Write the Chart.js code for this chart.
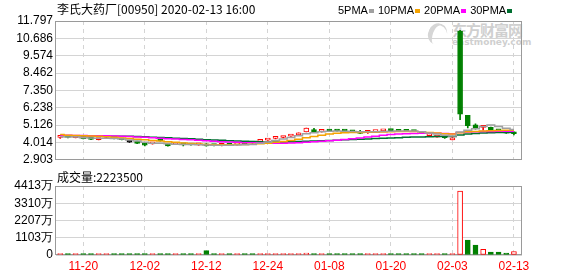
<!DOCTYPE html>
<html>
<head>
<meta charset="utf-8">
<script src="https://cdn.jsdelivr.net/npm/chart.js@4.4.1/dist/chart.umd.min.js"></script>
<style>
  body { margin: 0; width: 578px; height: 276px; background: #fff; position: relative; overflow: hidden; font-family: "Noto Sans CJK SC", sans-serif; }
  canvas { position: absolute; left: 0; }
  #price { top: 0; }
  #vol { top: 170px; }
  .txt { position: absolute; white-space: nowrap; color: #000; font-size: 12px; line-height: 14px; }
  #title { left: 57px; top: 2px; }
  #voltitle { left: 57px; top: 170px; }
  #legend { left: 338px; top: 3px; font-family: "Liberation Sans", sans-serif; font-size: 11px; }
  #legend i { display: inline-block; width: 5px; height: 4px; margin: 0 4px 1px 1px; vertical-align: middle; }
  #wm { position: absolute; left: 452px; top: 21px; color: #cfcfcf; }
  #wm .big { font-size: 15px; font-weight: bold; line-height: 17px; letter-spacing: -1px; }
  #wm .small { font-family: "DejaVu Sans", sans-serif; font-size: 9px; line-height: 9px; font-weight: bold; }
  #logo { position: absolute; left: 428px; top: 23px; width: 14px; height: 20px; border-radius: 50%; border-left: 5px solid #d6d6d6; border-top: 2px solid #d6d6d6; transform: rotate(20deg); }
</style>
</head>
<body>
<div id="logo"></div>
<div id="wm"><div class="big">东方财富网</div><div class="small">eastmoney.com</div></div>
<canvas id="price" width="578" height="170"></canvas>
<canvas id="vol" width="578" height="106"></canvas>
<div id="title" class="txt">李氏大药厂[00950] 2020-02-13 16:00</div>
<div id="legend" class="txt">5PMA<i style="background:#a0a0a0"></i>10PMA<i style="background:#f5a300"></i>20PMA<i style="background:#ff00ff"></i>30PMA<i style="background:#006f30"></i></div>
<div id="voltitle" class="txt">成交量:2223500</div>
<script>
const dates = ['11-15','11-18','11-19','11-20','11-21','11-22','11-25','11-26','11-27','11-28',
  '11-29','12-02','12-03','12-04','12-05','12-06','12-09','12-10','12-11','12-12',
  '12-13','12-16','12-17','12-18','12-19','12-20','12-23','12-24','12-27','12-30',
  '12-31','01-02','01-03','01-06','01-07','01-08','01-09','01-10','01-13','01-14',
  '01-15','01-16','01-17','01-20','01-21','01-22','01-23','01-24','01-29','01-30',
  '01-31','02-03','02-04','02-05','02-06','02-07','02-10','02-11','02-12','02-13'];

const openP = [4.34,4.36,4.32,4.28,4.24,4.20,4.34,4.30,4.22,4.03,
  4.10,3.95,3.92,4.26,3.93,3.90,3.88,3.87,3.86,3.93,
  3.84,3.83,3.85,3.86,3.92,4.00,4.08,4.16,4.28,4.33,
  4.42,4.50,4.69,4.84,4.72,4.78,4.77,4.75,4.72,4.66,
  4.66,4.71,4.76,4.79,4.74,4.73,4.72,4.70,4.45,4.36,
  4.34,4.18,11.14,5.76,5.15,4.98,4.98,4.78,4.62,4.59];
const highP = [4.45,4.38,4.36,4.30,4.25,4.26,4.45,4.32,4.24,4.05,
  4.10,3.96,3.95,4.28,3.94,3.93,3.92,3.89,3.88,3.94,
  3.86,3.85,3.87,3.89,3.94,4.01,4.16,4.19,4.36,4.38,
  4.45,4.63,4.94,4.92,4.83,4.82,4.78,4.77,4.76,4.79,
  4.79,4.74,4.79,4.80,4.76,4.75,4.74,4.72,4.60,4.44,
  4.36,4.32,11.20,5.76,5.21,5.09,5.00,4.80,4.63,4.69];
const lowP = [4.28,4.30,4.30,4.24,4.20,4.18,4.25,4.24,4.17,4.01,
  3.93,3.80,3.90,4.10,3.78,3.87,3.80,3.84,3.83,3.78,
  3.80,3.80,3.82,3.84,3.88,3.96,4.05,4.14,4.24,4.30,
  4.40,4.48,4.69,4.66,4.68,4.72,4.74,4.72,4.66,4.58,
  4.60,4.70,4.75,4.77,4.72,4.71,4.70,4.57,4.40,4.35,
  4.28,4.17,5.48,4.94,4.86,4.80,4.78,4.74,4.59,4.49];
const closeP = [4.37,4.34,4.35,4.25,4.21,4.23,4.38,4.27,4.19,4.03,
  3.96,3.84,3.94,4.12,3.80,3.92,3.86,3.85,3.87,3.80,
  3.82,3.84,3.83,3.88,3.90,3.98,4.12,4.18,4.31,4.36,
  4.44,4.60,4.94,4.67,4.75,4.74,4.75,4.74,4.69,4.60,
  4.70,4.73,4.78,4.77,4.73,4.72,4.71,4.59,4.50,4.44,
  4.32,4.31,5.83,5.09,4.92,5.00,4.80,4.76,4.61,4.57];

const ma5 = [4.38,4.37,4.36,4.31,4.30,4.28,4.29,4.27,4.24,4.17,
  4.10,4.02,3.97,3.96,3.93,3.90,3.89,3.88,3.87,3.85,
  3.84,3.84,3.84,3.85,3.86,3.89,3.96,4.04,4.14,4.24,
  4.33,4.44,4.57,4.64,4.70,4.74,4.75,4.74,4.72,4.70,
  4.70,4.70,4.72,4.74,4.75,4.75,4.75,4.70,4.62,4.55,
  4.48,4.43,4.68,4.80,4.89,5.03,5.13,5.03,4.92,4.85];
const ma10 = [4.52,4.48,4.46,4.44,4.43,4.42,4.38,4.34,4.30,4.26,
  4.22,4.18,4.14,4.10,4.06,4.02,3.98,3.94,3.91,3.88,
  3.87,3.87,3.87,3.88,3.89,3.90,3.93,3.97,4.02,4.08,
  4.14,4.22,4.32,4.40,4.48,4.55,4.60,4.63,4.65,4.66,
  4.67,4.67,4.68,4.70,4.71,4.71,4.71,4.70,4.66,4.62,
  4.58,4.55,4.64,4.70,4.72,4.75,4.77,4.78,4.79,4.79];
const ma20 = [4.47,4.47,4.46,4.46,4.45,4.45,4.44,4.43,4.42,4.40,
  4.37,4.34,4.31,4.28,4.25,4.23,4.21,4.18,4.15,4.12,
  4.09,4.06,4.04,4.02,4.00,3.99,3.98,3.97,3.97,3.97,
  3.98,4.00,4.03,4.06,4.09,4.12,4.16,4.20,4.25,4.30,
  4.36,4.42,4.47,4.52,4.56,4.58,4.59,4.60,4.60,4.60,
  4.59,4.58,4.65,4.68,4.70,4.71,4.72,4.73,4.73,4.74];
const ma30 = [4.46,4.45,4.45,4.44,4.44,4.43,4.43,4.42,4.42,4.41,
  4.40,4.38,4.35,4.33,4.31,4.29,4.27,4.25,4.22,4.19,
  4.17,4.15,4.13,4.11,4.09,4.07,4.06,4.05,4.05,4.05,
  4.06,4.07,4.09,4.11,4.12,4.14,4.16,4.18,4.20,4.22,
  4.24,4.26,4.28,4.30,4.32,4.34,4.36,4.37,4.38,4.39,
  4.39,4.40,4.50,4.55,4.59,4.62,4.64,4.65,4.66,4.67];

const volume = [620000,540000,480000,700000,560000,450000,820000,600000,530000,380000,
  650000,720000,500000,900000,760000,420000,580000,460000,510000,2750000,
  600000,480000,520000,440000,560000,610000,700000,520000,650000,560000,
  600000,780000,1200000,900000,700000,620000,540000,480000,560000,700000,
  650000,520000,600000,480000,450000,470000,430000,600000,700000,650000,
  620000,800000,40900000,9600000,6400000,3650000,1920000,1900000,1280000,2223500];
const volUp = [1,0,1,0,0,1,1,0,0,0, 0,0,1,0,0,1,0,0,1,0,
  0,1,0,1,0,0,1,1,1,1, 1,1,1,0,1,0,0,0,0,0,
  1,1,1,0,0,0,0,0,1,1, 0,1,1,0,0,1,0,0,0,1];

const priceTicks = [2.903, 4.014, 5.126, 6.238, 7.350, 8.462, 9.574, 10.686, 11.797];
const volTicks = [0, 11032500, 22065000, 33097500, 44130000];
const volTickLabels = ['0', '1103万', '2207万', '3310万', '4413万'];
const xTickLabels = ['11-20','12-02','12-12','12-24','01-08','01-20','02-03','02-13'];
const xTickIdx = xTickLabels.map(d => dates.indexOf(d));

const RED = '#ff0000', GREEN = '#008000', GRID = '#d4d4d4', FRAME = '#9a9a9a';

const candleColor = dates.map((d, i) => closeP[i] > openP[i] ? RED : closeP[i] < openP[i] ? GREEN : '#000000');
const bodyFill = dates.map((d, i) => closeP[i] > openP[i] ? '#ffffff' : candleColor[i]);

const framePlugin = {
    id: 'frame',
    beforeDatasetsDraw(chart) {
        const { ctx, chartArea: a } = chart;
        ctx.save();
        ctx.strokeStyle = FRAME;
        ctx.lineWidth = 1;
        ctx.strokeRect(Math.round(a.left) - 0.5, Math.round(a.top) + 0.5, Math.round(a.right - a.left), Math.round(a.bottom - a.top) - 1);
        ctx.restore();
    }
};

const xScale = (showLabels) => ({
    type: 'linear',
    min: -0.55,
    max: 60.05,
    offset: false,
    afterBuildTicks: s => { s.ticks = xTickIdx.map(v => ({ value: v })); },
    afterFit: s => { s.height = showLabels ? 21 : 0; },
    ticks: {
        display: showLabels,
        autoSkip: false,
        maxRotation: 0,
        padding: 4,
        color: RED,
        font: { family: 'Liberation Sans', size: 12 },
        callback: v => xTickLabels[xTickIdx.indexOf(v)]
    },
    grid: { color: GRID, drawTicks: false, offset: false },
    border: { display: false, dash: [4, 4] }
});

const yTickFont = { family: 'Liberation Sans', size: 12 };

new Chart(document.getElementById('price'), {
    type: 'bar',
    data: {
        datasets: [
            { type: 'line', label: '5PMA', data: ma5.map((v, i) => ({ x: i, y: v })), borderColor: '#a0a0a0', borderWidth: 1.5, pointRadius: 0, stepped: 'middle', order: 0 },
            { type: 'line', label: '10PMA', data: ma10.map((v, i) => ({ x: i, y: v })), borderColor: '#f5a300', borderWidth: 1.5, pointRadius: 0, stepped: 'middle', order: 0.1 },
            { type: 'line', label: '20PMA', data: ma20.map((v, i) => ({ x: i, y: v })), borderColor: '#ff00ff', borderWidth: 1.5, pointRadius: 0, stepped: 'middle', order: 0.2 },
            { type: 'line', label: '30PMA', data: ma30.map((v, i) => ({ x: i, y: v })), borderColor: '#006f30', borderWidth: 1.5, pointRadius: 0, stepped: 'middle', order: 0.3 },
            { label: 'body', data: dates.map((d, i) => ({ x: i, y: [openP[i], closeP[i]] })), backgroundColor: bodyFill, borderColor: candleColor, borderWidth: 1, borderSkipped: false, barThickness: 5, minBarLength: 2, grouped: false, order: 1 },
            { label: 'wick', data: dates.map((d, i) => ({ x: i, y: [lowP[i], highP[i]] })), backgroundColor: candleColor, borderWidth: 0, barThickness: 1, grouped: false, order: 2 }
        ]
    },
    options: {
        responsive: false,
        animation: false,
        layout: { padding: { top: 21, right: 56, bottom: 5, left: 0 } },
        plugins: { legend: { display: false }, tooltip: { enabled: false } },
        scales: {
            x: xScale(false),
            y: {
                min: 2.903,
                max: 11.797,
                afterBuildTicks: s => { s.ticks = priceTicks.map(v => ({ value: v })); },
                afterFit: s => { s.width = 56; },
                ticks: { color: '#000', font: yTickFont, padding: 3, autoSkip: false, callback: v => v.toFixed(3) },
                grid: { color: GRID, drawTicks: false },
                border: { display: false }
            }
        }
    },
    plugins: [framePlugin]
});

new Chart(document.getElementById('vol'), {
    type: 'bar',
    data: {
        datasets: [{
            label: 'volume',
            data: volume.map((v, i) => ({ x: i, y: v })),
            backgroundColor: volUp.map(u => u ? '#ffffff' : GREEN),
            borderColor: volUp.map(u => u ? RED : GREEN),
            borderWidth: 1,
            borderSkipped: false,
            barThickness: 5,
            minBarLength: 1.5,
            grouped: false
        }]
    },
    options: {
        responsive: false,
        animation: false,
        layout: { padding: { top: 16, right: 56, bottom: 0, left: 0 } },
        plugins: { legend: { display: false }, tooltip: { enabled: false } },
        scales: {
            x: xScale(true),
            y: {
                min: 0,
                max: 44130000,
                afterBuildTicks: s => { s.ticks = volTicks.map(v => ({ value: v })); },
                afterFit: s => { s.width = 56; },
                ticks: { color: '#000', font: yTickFont, padding: 3, autoSkip: false, callback: (v, idx) => volTickLabels[idx] },
                grid: { color: GRID, drawTicks: false },
                border: { display: false }
            }
        }
    },
    plugins: [framePlugin]
});
</script>
</body>
</html>
